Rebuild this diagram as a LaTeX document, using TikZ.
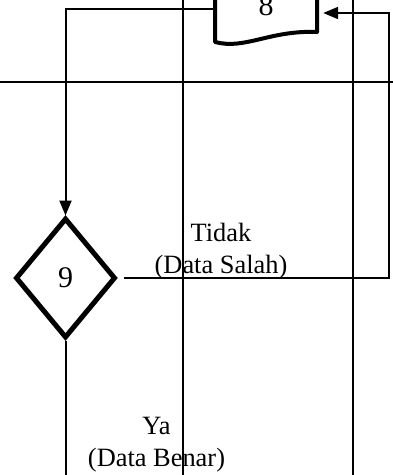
\documentclass[tikz,border=0pt]{standalone}
\usepackage{fontspec}
\setmainfont{Liberation Serif}
\usetikzlibrary{arrows.meta,shapes.geometric}
\tikzstyle{decision}=[diamond,draw,line width=5pt,minimum width=100pt,minimum height=120pt,inner sep=0pt,aspect=0.83,font=\fontsize{30}{36}\selectfont]
\tikzstyle{docbox}=[minimum width=102pt,minimum height=20pt,inner sep=0pt,font=\fontsize{30}{36}\selectfont]
\tikzstyle{docline}=[draw,line width=4pt,line join=round]
\tikzstyle{edge}=[draw,line width=2pt,-{Triangle[length=15pt,width=12pt]}]
\tikzstyle{plainedge}=[draw,line width=2pt]
\tikzstyle{lane}=[draw,line width=2pt]
\tikzstyle{branchtext}=[align=center,inner sep=0pt,font=\fontsize{26.4}{32}\selectfont]

\begin{document}
\begin{tikzpicture}[x=1pt,y=-1pt]
    \useasboundingbox (0,0) rectangle (393,475);
    \clip (0,0) rectangle (393,475);

    % lanes
    \foreach \xx in {183,353}
        \path[lane] (\xx,-5) -- (\xx,480);
    \path[lane] (-5,82) -- (398,82);

    % document 8
    \node[docbox] (doc8) at (266,6) {8};
    \path[docline] (215,-30) -- (215,42) .. controls (245,50) and (270,30) .. (317,32) -- (317,-30);

    % decision 9
    \node[decision] (d9) at (65.5,278) {9};

    \coordinate (loopr) at (389,0);
    \coordinate (yaend) at (0,480);

    % Edges
    \path[edge] ([yshift=-3.3pt]doc8.west) -| (d9.north);
    \path[edge,shorten <=6pt,shorten >=6pt] (d9.east) -- (d9.east -| loopr) |- ([yshift=-7pt]doc8.east);
    \path[plainedge] (d9.south) -- (d9.south |- yaend);

    % Label
    \node[branchtext] (tidak) at (221,251) {Tidak\\(Data Salah)};
    \node[branchtext] (ya) at (156.5,444.5) {Ya\\(Data Benar)};
\end{tikzpicture}
\end{document}
